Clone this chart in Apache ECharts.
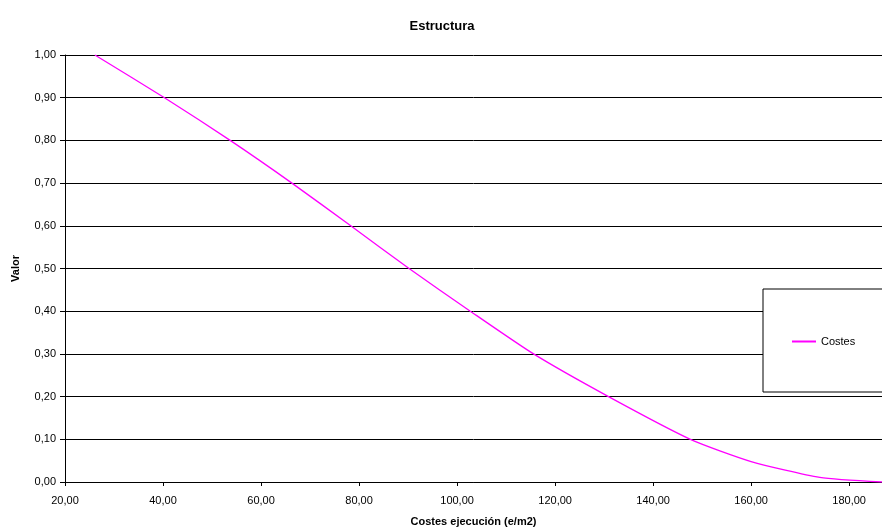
<!DOCTYPE html>
<html><head><meta charset="utf-8">
<script src="https://cdn.jsdelivr.net/npm/echarts@6/dist/echarts.min.js"></script>
<style>html,body{margin:0;padding:0;background:#fff;overflow:hidden}#c{width:882px;height:527px}</style>
</head><body><div id="c"></div>
<script>
const title = 'Estructura';
const seriesName = 'Costes';
const xName = 'Costes ejecución (e/m2)';
const yName = 'Valor';
const costX = [26.1, 40.3, 53.7, 66.3, 78.3, 90.2, 102.7, 115.6, 130.9, 147.6, 160.0, 174.0, 186.7];
const valorY = [1.00, 0.90, 0.80, 0.70, 0.60, 0.50, 0.40, 0.30, 0.20, 0.10, 0.048, 0.011, 0.00];
const xMin = 20, xMax = 186.7, xStep = 20;
const yMin = 0, yMax = 1, yStep = 0.1;

const fmt = v => v.toFixed(2).replace('.', ',');
const font = 'Liberation Sans, Arial, sans-serif';
const chart = echarts.init(document.getElementById('c'));
chart.setOption({
  animation: false,
  backgroundColor: '#fff',
  title: { text: title, left: 437, top: 15, textAlign: 'center',
    textStyle: { fontFamily: font, fontSize: 13, fontWeight: 'bold', color: '#000' } },
  grid: { left: 65, top: 55, right: 0, bottom: 45, containLabel: false, outerBoundsMode: 'none' },
  legend: {
    data: [seriesName], left: 763, top: 289,
    orient: 'vertical',
    padding: [47, 40, 45, 29],
    itemWidth: 24, itemHeight: 2, itemGap: 5,
    backgroundColor: '#fff', borderColor: '#000', borderWidth: 1,
    textStyle: { fontFamily: font, fontSize: 11, color: '#000' },
    icon: 'rect'
  },
  xAxis: {
    type: 'value', min: xMin, max: xMax, interval: xStep,
    name: xName, nameLocation: 'middle', nameGap: 34,
    nameTextStyle: { fontFamily: font, fontSize: 11, fontWeight: 'bold', color: '#000' },
    axisLine: { lineStyle: { color: '#000', width: 1 } },
    axisTick: { show: true, length: 4, lineStyle: { color: '#000' } },
    axisLabel: { fontFamily: font, fontSize: 11, color: '#000', margin: 13, formatter: v => fmt(v), showMaxLabel: false },
    splitLine: { show: false }
  },
  yAxis: {
    type: 'value', min: yMin, max: yMax, interval: yStep,
    name: yName, nameLocation: 'middle', nameGap: 44, nameRotate: 90,
    nameTextStyle: { fontFamily: font, fontSize: 11, fontWeight: 'bold', color: '#000' },
    axisLine: { show: true, lineStyle: { color: '#000', width: 1 } },
    axisTick: { show: true, length: 5, lineStyle: { color: '#000' } },
    axisLabel: { fontFamily: font, fontSize: 11, color: '#000', margin: 9, formatter: v => fmt(v) },
    splitLine: { show: true, lineStyle: { color: '#000', width: 1 } }
  },
  series: [{
    name: seriesName, type: 'line', smooth: 0.2, showSymbol: false, symbol: 'none',
    data: costX.map((x, i) => [x, valorY[i]]),
    lineStyle: { color: '#FF00FF', width: 1.3 },
    itemStyle: { color: '#FF00FF' }
  }]
});
</script></body></html>
